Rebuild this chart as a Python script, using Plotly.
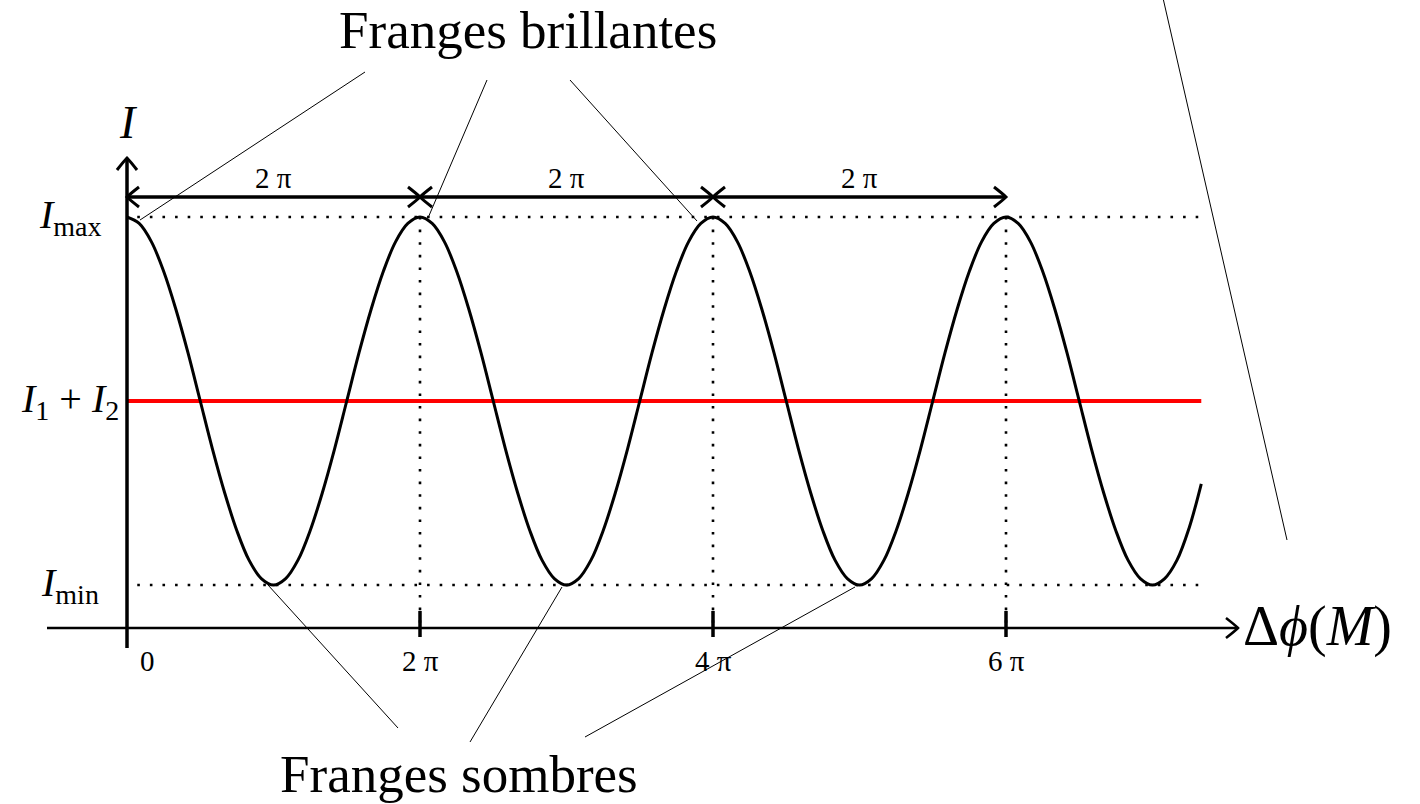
import plotly.graph_objects as go

# Phase difference Δφ(M) in units of π, sampled every π/12
phase_pi = [
    0, 0.083, 0.167, 0.25, 0.333, 0.417, 0.5, 0.583, 0.667, 0.75, 0.833, 0.917,
    1, 1.083, 1.167, 1.25, 1.333, 1.417, 1.5, 1.583, 1.667, 1.75, 1.833, 1.917,
    2, 2.083, 2.167, 2.25, 2.333, 2.417, 2.5, 2.583, 2.667, 2.75, 2.833, 2.917,
    3, 3.083, 3.167, 3.25, 3.333, 3.417, 3.5, 3.583, 3.667, 3.75, 3.833, 3.917,
    4, 4.083, 4.167, 4.25, 4.333, 4.417, 4.5, 4.583, 4.667, 4.75, 4.833, 4.917,
    5, 5.083, 5.167, 5.25, 5.333, 5.417, 5.5, 5.583, 5.667, 5.75, 5.833, 5.917,
    6, 6.083, 6.167, 6.25, 6.333, 6.417, 6.5, 6.583, 6.667, 6.75, 6.833, 6.917,
    7, 7.083, 7.167, 7.25, 7.333,
]
# Intensity I(M) at those phases (arbitrary units)
intensity = [
    5, 4.93, 4.73, 4.41, 4, 3.52, 3, 2.48, 2, 1.59, 1.27, 1.07,
    1, 1.07, 1.27, 1.59, 2, 2.48, 3, 3.52, 4, 4.41, 4.73, 4.93,
    5, 4.93, 4.73, 4.41, 4, 3.52, 3, 2.48, 2, 1.59, 1.27, 1.07,
    1, 1.07, 1.27, 1.59, 2, 2.48, 3, 3.52, 4, 4.41, 4.73, 4.93,
    5, 4.93, 4.73, 4.41, 4, 3.52, 3, 2.48, 2, 1.59, 1.27, 1.07,
    1, 1.07, 1.27, 1.59, 2, 2.48, 3, 3.52, 4, 4.41, 4.73, 4.93,
    5, 4.93, 4.73, 4.41, 4, 3.52, 3, 2.48, 2, 1.59, 1.27, 1.07,
    1, 1.07, 1.27, 1.62, 2.1,
]

I_MAX = 5
I_MIN = 1
I_MEAN = 3  # I1 + I2

tick_pi = [0, 2, 4, 6]
tick_text = ["0", "2 π", "4 π", "6 π"]
period_spans = [(0, 2), (2, 4), (4, 6)]
period_text = "2 π"

# ---- page geometry -------------------------------------------------------
W, H = 1420, 804
ORIGIN_PX = 127.0      # page x of Δφ = 0
PX_PER_PI = 146.5      # page px per π
MEAN_PY = 401.0        # page y of I = I_MEAN
PX_PER_I = 92.0        # page px per intensity unit


def page_x(px):
    return (px - ORIGIN_PX) / PX_PER_PI


def page_y(py):
    return I_MEAN + (MEAN_PY - py) / PX_PER_I


SERIF = "Liberation Serif, Times New Roman, serif"
x_end = phase_pi[-1]
axis_level = page_y(628)
dim_level = page_y(197)

fig = go.Figure()

# Mean intensity I1 + I2
fig.add_trace(go.Scatter(
    x=[phase_pi[0], x_end], y=[I_MEAN, I_MEAN], mode="lines",
    line=dict(color="#ff0000", width=4), hoverinfo="skip", showlegend=False,
))
# Interference intensity
fig.add_trace(go.Scatter(
    x=phase_pi, y=intensity, mode="lines",
    line=dict(color="black", width=3, shape="spline", smoothing=1),
    hoverinfo="skip", showlegend=False,
))

shapes = []
dot = dict(color="black", width=2.6, dash="2.6px,10px")

# dotted Imax / Imin levels
for lvl in (I_MAX, I_MIN):
    shapes.append(dict(type="line", xref="x", yref="y", x0=0.07, x1=x_end,
                       y0=lvl, y1=lvl, line=dot, layer="below"))
# dotted verticals and ticks at multiples of 2π
for t in tick_pi[1:]:
    shapes.append(dict(type="line", xref="x", yref="y", x0=t, x1=t,
                       y0=I_MAX, y1=axis_level, line=dot, layer="below"))
    shapes.append(dict(type="line", xref="x", yref="y", x0=t, x1=t,
                       ysizemode="pixel", yanchor=axis_level, y0=-9, y1=17,
                       line=dict(color="black", width=3.5)))

# axes
shapes.append(dict(type="line", xref="x", yref="y", x0=0, x1=0,
                   y0=page_y(648), y1=page_y(158),
                   line=dict(color="black", width=3.5)))
shapes.append(dict(type="line", xref="x", yref="y", x0=page_x(47), x1=page_x(1238),
                   y0=axis_level, y1=axis_level,
                   line=dict(color="black", width=2.5)))


def head(xd, yd, direction, width=2.5):
    """Curved arrow head with its tip at data point (xd, yd)."""
    if direction == "up":
        path = "M -10,-12 Q -3,-3 0,0 Q 3,-3 10,-12"
    elif direction == "right":
        path = "M -12,10 Q -3,3 0,0 Q -3,-3 -12,-10"
    else:  # left
        path = "M 12,10 Q 3,3 0,0 Q 3,-3 12,-10"
    return dict(type="path", xref="x", yref="y", xsizemode="pixel",
                ysizemode="pixel", xanchor=xd, yanchor=yd, path=path,
                line=dict(color="black", width=width))


shapes.append(head(0, page_y(158), "up", 3))
shapes.append(head(page_x(1238), axis_level, "right", 2.5))

# period dimension arrows
for a, b in period_spans:
    shapes.append(dict(type="line", xref="x", yref="y", x0=a, x1=b,
                       y0=dim_level, y1=dim_level,
                       line=dict(color="black", width=3.5)))
    shapes.append(head(a, dim_level, "left", 3))
    shapes.append(head(b, dim_level, "right", 3))

# connector lines to the fringes
thin = dict(color="black", width=1)
bright_links = [((365, 72), (140, 220)), ((487, 80), (428, 218)), ((570, 80), (697, 221))]
dark_links = [((398, 728), (268, 585)), ((470, 742), (562, 587)), ((585, 737), (855, 587))]
for (p0, p1) in bright_links + dark_links + [((1163, -2), (1287, 540))]:
    shapes.append(dict(type="line", xref="x", yref="y",
                       x0=page_x(p0[0]), y0=page_y(p0[1]),
                       x1=page_x(p1[0]), y1=page_y(p1[1]), line=thin))

annotations = []


def label(x, y, text, size, xanchor="center", yanchor="middle"):
    annotations.append(dict(x=x, y=y, xref="x", yref="y", text=text,
                            showarrow=False, xanchor=xanchor, yanchor=yanchor,
                            font=dict(family=SERIF, size=size, color="black")))


# tick labels
for t, txt in zip(tick_pi, tick_text):
    xs = page_x(147) if t == 0 else t
    label(xs, page_y(661), txt, 29)
# period labels
for a, b in period_spans:
    label((a + b) / 2, page_y(178), period_text, 29)

# y labels
label(page_x(104), I_MAX, "<i>I</i><sub>max</sub>", 40, xanchor="right")
label(page_x(121), I_MEAN, "<i>I</i><sub>1</sub> + <i>I</i><sub>2</sub>", 40, xanchor="right")
label(page_x(101), I_MIN, "<i>I</i><sub>min</sub>", 40, xanchor="right")
label(page_x(128), page_y(122), "<i>I</i>", 46)
label(page_x(1241), page_y(626), "Δ<i>ϕ</i>(<i>M</i>)", 56, xanchor="left")

# captions
label(page_x(528), page_y(30), "Franges brillantes", 53)
label(page_x(459), page_y(774), "Franges sombres", 53)

fig.update_layout(
    width=W, height=H,
    margin=dict(l=0, r=0, t=0, b=0),
    paper_bgcolor="white", plot_bgcolor="white",
    xaxis=dict(range=[page_x(0), page_x(W)], visible=False, fixedrange=True),
    yaxis=dict(range=[page_y(H), page_y(0)], visible=False, fixedrange=True),
    shapes=shapes, annotations=annotations,
    showlegend=False,
)

fig.write_html("out.html")
